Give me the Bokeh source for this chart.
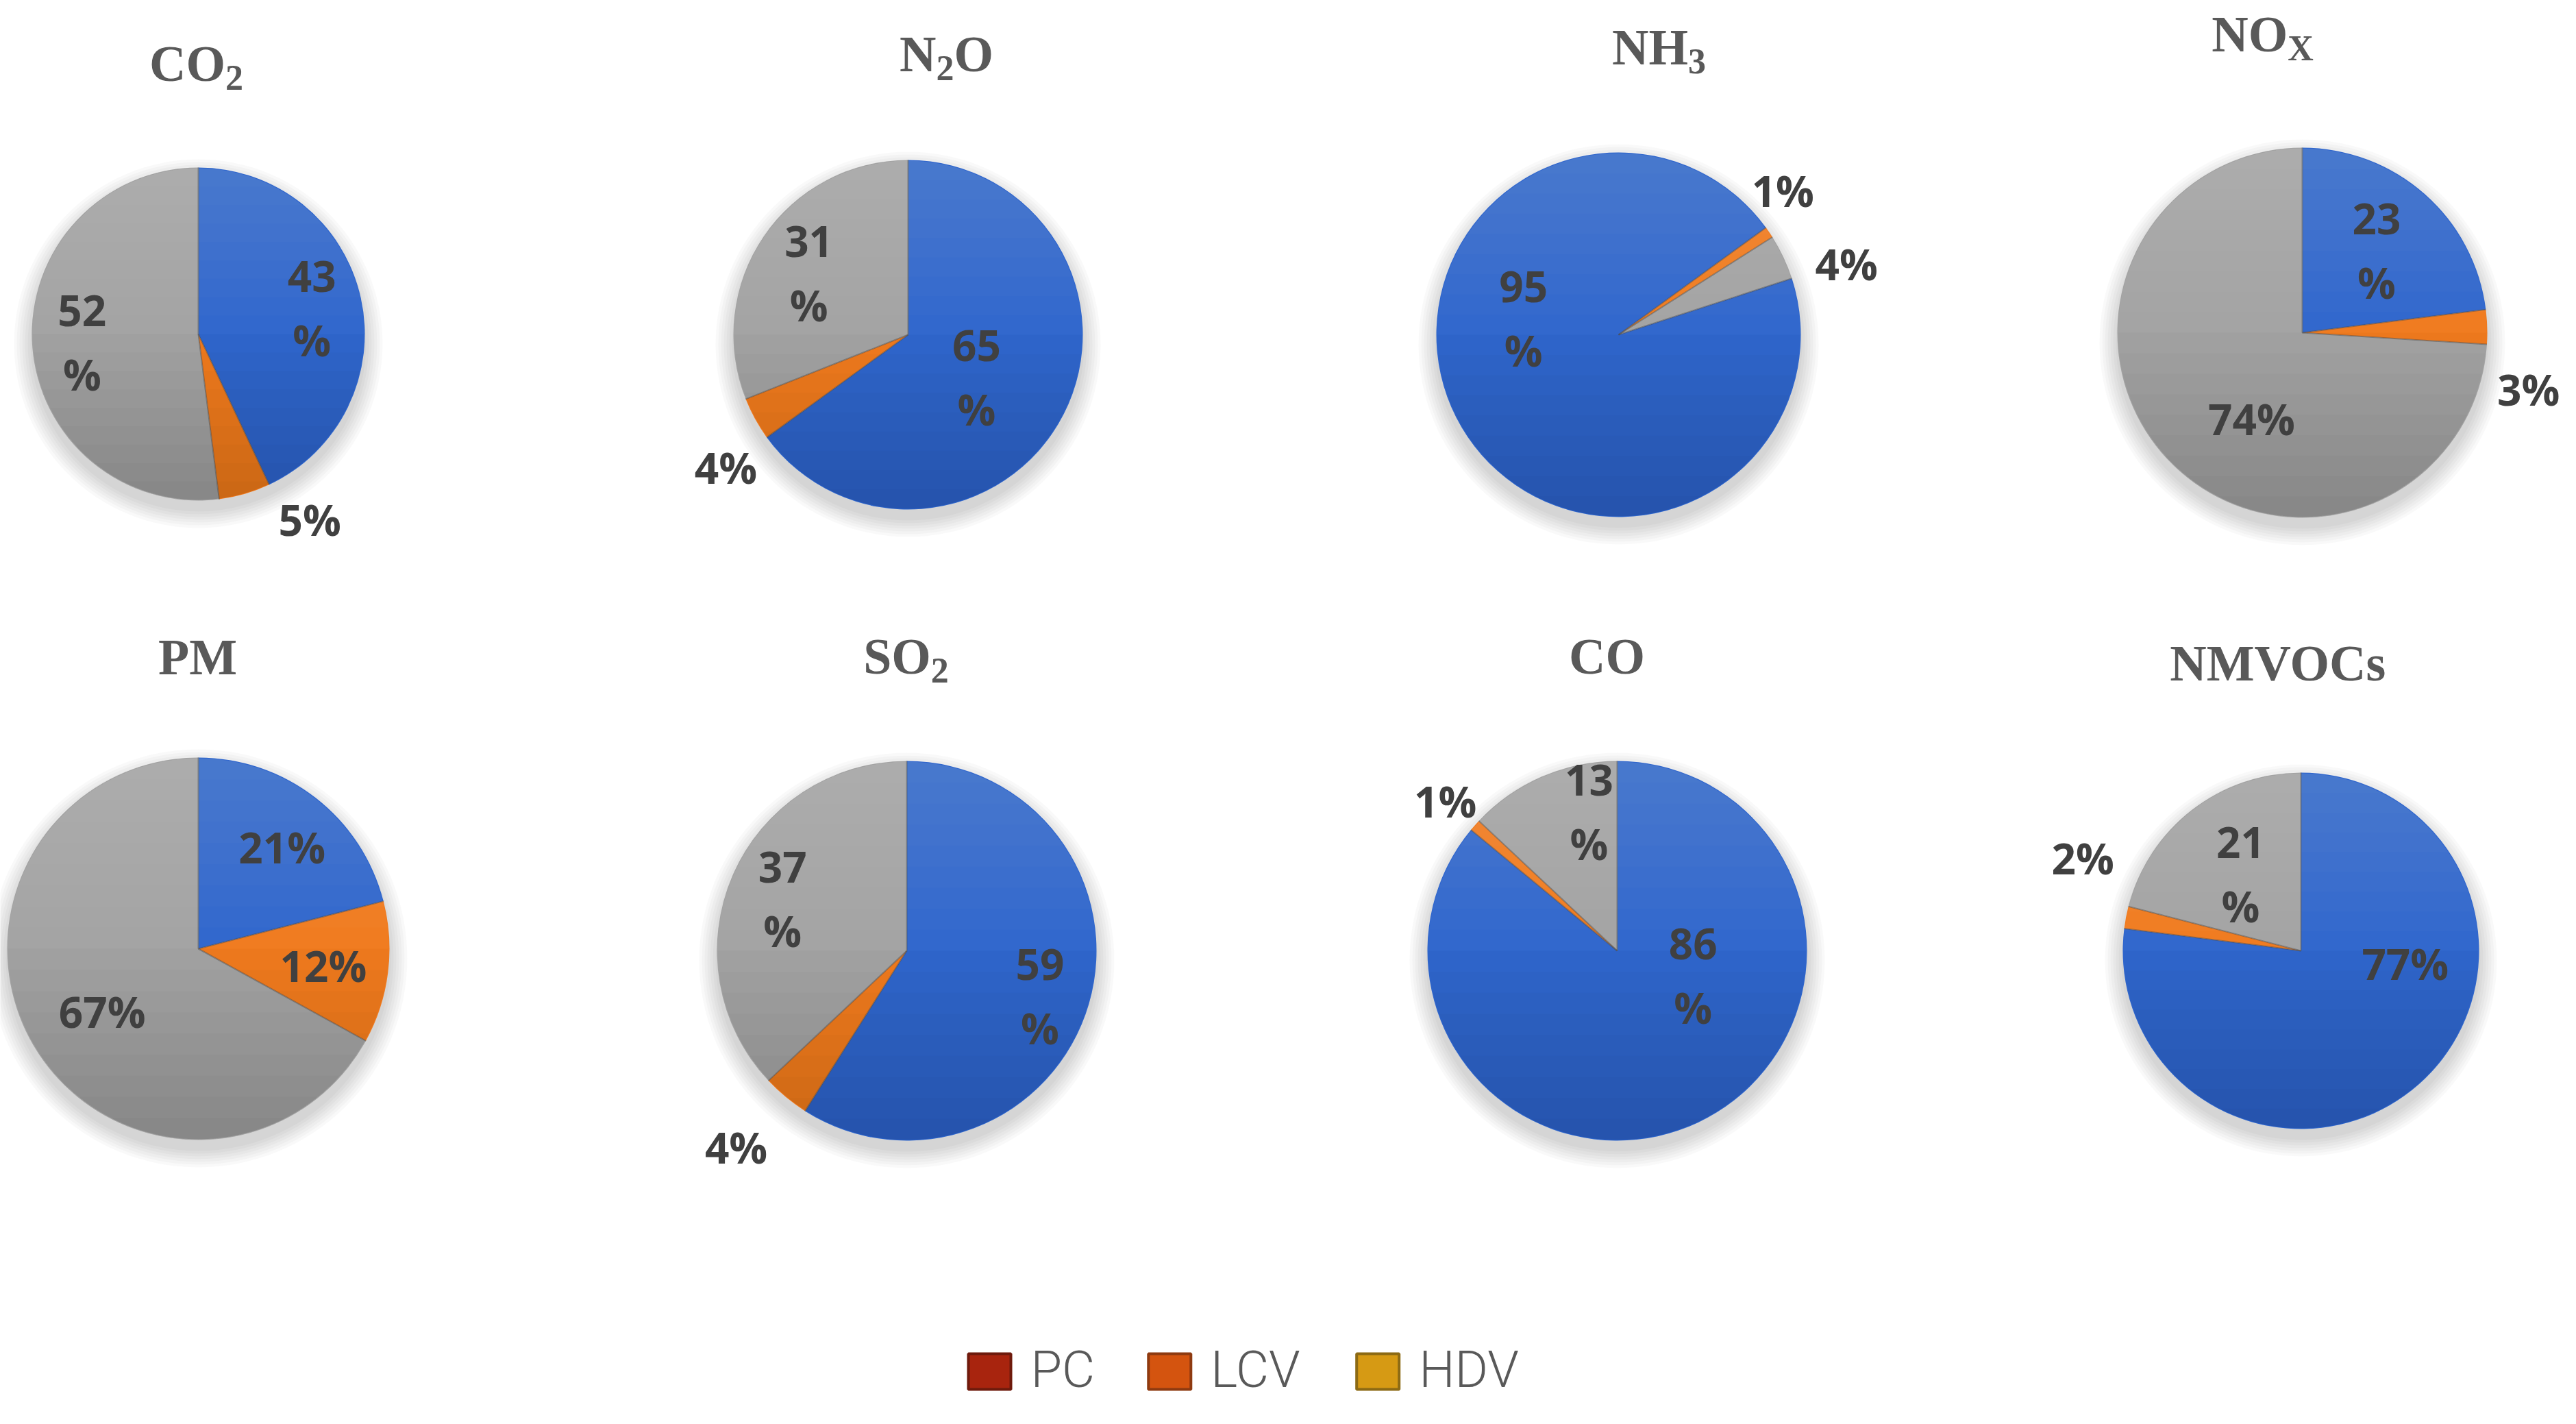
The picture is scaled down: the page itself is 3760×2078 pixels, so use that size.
import math
from bokeh.plotting import figure
from bokeh.models import ColumnDataSource, Range1d
from bokeh.core.properties import value
from bokeh.embed import file_html
from bokeh.resources import INLINE

# ---------------- data ----------------
pollutants = ["CO2", "N2O", "NH3", "NOx", "PM", "SO2", "CO", "NMVOCs"]
title_parts = [
    [("CO", 0), ("2", 1)],
    [("N", 0), ("2", 1), ("O", 0)],
    [("NH", 0), ("3", 1)],
    [("NO", 0), ("X", 1)],
    [("PM", 0)],
    [("SO", 0), ("2", 1)],
    [("CO", 0)],
    [("NMVOCs", 0)],
]
categories = ["PC", "LCV", "HDV"]
pc_share = [43, 65, 95, 23, 21, 59, 86, 77]
lcv_share = [5, 4, 1, 3, 12, 4, 1, 2]
hdv_share = [52, 31, 4, 74, 67, 37, 13, 21]

slice_colors = ["#2F66CD", "#F07A1E", "#A3A3A3"]
legend_colors = ["#A8240E", "#D4540F", "#D69A14"]
legend_edges = ["#6E1A0C", "#8E3A10", "#8C6A14"]

# ---------------- layout (page pixels) ----------------
PAGE_W, PAGE_H = 3760, 2078
FIG_W, FIG_H = 3744, 2062


def Y(py):
    return PAGE_H - py


pie_centers = [(297, 495), (1333, 496), (2370, 496), (3368, 493),
               (297, 1392), (1331, 1395), (2368, 1395), (3366, 1395)]
pie_radii = [243, 255, 266, 270, 279, 277, 277, 260]
first_angle = [0, 0, 72, 0, 0, 0, 0, 0]
title_centers = [(294, 76), (1389, 62), (2429, 52), (3310, 33),
                 (296, 942), (1330, 941), (2353, 941), (3333, 951)]
# (angle clockwise from 12 o'clock, distance / radius, two-line)
label_place = [
    [(77, 0.70, True), (149, 1.30, False), (266, 0.70, True)],
    [(121.6, 0.46, True), (234, 1.29, False), (302, 0.67, True)],
    [(280, 0.53, True), (48.7, 1.20, False), (72.7, 1.31, False)],
    [(42, 0.60, True), (104, 1.26, False), (210.5, 0.54, False)],
    [(39.4, 0.69, False), (97.8, 0.66, False), (237, 0.60, False)],
    [(108.5, 0.74, True), (221, 1.37, False), (292.8, 0.71, True)],
    [(107.8, 0.42, True), (311, 1.20, False), (348.6, 0.75, True)],
    [(97, 0.59, False), (293, 1.33, False), (322, 0.55, True)],
]

p = figure(width=FIG_W, height=FIG_H, output_backend="svg", toolbar_location=None,
           x_range=Range1d(8, PAGE_W - 8), y_range=Range1d(8, PAGE_H - 8),
           x_axis_type=None, y_axis_type=None, min_border=0,
           outline_line_color=None, background_fill_color="white")
p.xgrid.visible = False
p.ygrid.visible = False

# ---------------- shadows ----------------
sh = dict(x=[], y=[], r=[])
for (cx, cy), r in zip(pie_centers, pie_radii):
    for k in range(7):
        sh["x"].append(cx)
        sh["y"].append(Y(cy) - 14)
        sh["r"].append(r + 2 + 4 * k)
p.circle(x="x", y="y", radius="r", source=ColumnDataSource(sh),
         fill_color="black", fill_alpha=0.022, line_color=None)

# ---------------- wedges ----------------
wd = dict(x=[], y=[], radius=[], start=[], end=[], color=[], cat=[], pol=[])
edges = dict(x0=[], y0=[], x1=[], y1=[])
for i, pol in enumerate(pollutants):
    cx, cy = pie_centers[i]
    r = pie_radii[i]
    vals = [pc_share[i], lcv_share[i], hdv_share[i]]
    tot = float(sum(vals))
    a = first_angle[i]
    for j, v in enumerate(vals):
        a2 = a + 360.0 * v / tot
        wd["x"].append(cx)
        wd["y"].append(Y(cy))
        wd["radius"].append(r)
        wd["start"].append(math.radians(90 - a))
        wd["end"].append(math.radians(90 - a2))
        wd["color"].append(slice_colors[j])
        wd["cat"].append(categories[j])
        wd["pol"].append(pol)
        edges["x0"].append(cx)
        edges["y0"].append(Y(cy))
        edges["x1"].append(cx + r * math.sin(math.radians(a)))
        edges["y1"].append(Y(cy) + r * math.cos(math.radians(a)))
        a = a2
p.wedge(x="x", y="y", radius="radius", start_angle="start", end_angle="end",
        direction="clock", fill_color="color", line_color=None,
        source=ColumnDataSource(wd))


# ---------------- vertical shading (light top, dark bottom) ----------------
def cap(cx, cy, r, h, above, n=72):
    phi0 = math.asin(max(-1.0, min(1.0, h / r)))
    if above:
        a0, a1 = phi0, math.pi - phi0
    else:
        a0, a1 = math.pi - phi0, 2 * math.pi + phi0
    xs = [cx + r * math.cos(a0 + (a1 - a0) * t / n) for t in range(n + 1)]
    ys = [cy + r * math.sin(a0 + (a1 - a0) * t / n) for t in range(n + 1)]
    return xs, ys


N = 9
lx, ly, dx_, dy_ = [], [], [], []
for (cx, cy), r in zip(pie_centers, pie_radii):
    for k in range(1, N + 1):
        xs, ys = cap(cx, Y(cy), r - 1, (r - 1) * (1 - 1.0 * k / N), True)
        lx.append(xs)
        ly.append(ys)
        xs, ys = cap(cx, Y(cy), r - 1, -(r - 1) * (1 - 1.0 * k / N), False)
        dx_.append(xs)
        dy_.append(ys)
p.patches(xs=lx, ys=ly, fill_color="white", fill_alpha=0.014, line_color=None)
p.patches(xs=dx_, ys=dy_, fill_color="black", fill_alpha=0.016, line_color=None)

# slice boundary lines
p.segment(x0="x0", y0="y0", x1="x1", y1="y1", source=ColumnDataSource(edges),
          line_color="#4a4a4a", line_alpha=0.45, line_width=2)

# ---------------- data labels ----------------
lab = dict(x=[], y=[], text=[])
for i in range(len(pollutants)):
    cx, cy = pie_centers[i]
    r = pie_radii[i]
    vals = [pc_share[i], lcv_share[i], hdv_share[i]]
    for j, v in enumerate(vals):
        ang, f, wrap = label_place[i][j]
        lab["x"].append(cx + f * r * math.sin(math.radians(ang)))
        lab["y"].append(Y(cy) + f * r * math.cos(math.radians(ang)))
        lab["text"].append(f"{v}\n%" if wrap else f"{v}%")
p.text(x="x", y="y", text="text", source=ColumnDataSource(lab),
       text_font=value("Open Sans"), text_font_style="bold", text_font_size="62px",
       text_color="#404040", text_align="center", text_baseline="middle",
       text_line_height=1.12)

# ---------------- titles ----------------
TB = {"C": 722, "O": 778, "N": 722, "H": 778, "M": 944, "P": 611, "S": 556,
      "V": 722, "s": 389, "X": 722, "2": 500, "3": 500}
MAIN_FS, SUB_FS, SUB_DROP = 74, 52, 21
mt = dict(x=[], y=[], text=[])
st = dict(x=[], y=[], text=[])
for i, parts in enumerate(title_parts):
    tcx, tcy = title_centers[i]
    widths = [sum(TB[c] for c in s) / 1000.0 * (SUB_FS if sub else MAIN_FS) for s, sub in parts]
    x = tcx - sum(widths) / 2.0
    base = tcy + 0.662 * MAIN_FS / 2.0
    for (s, sub), w in zip(parts, widths):
        d = st if sub else mt
        d["x"].append(x)
        d["y"].append(Y(base + (SUB_DROP if sub else 0)))
        d["text"].append(s)
        x += w
p.text(x="x", y="y", text="text", source=ColumnDataSource(mt),
       text_font=value("Liberation Serif"), text_font_style="bold",
       text_font_size=f"{MAIN_FS}px", text_color="#595959",
       text_align="left", text_baseline="alphabetic")
p.text(x="x", y="y", text="text", source=ColumnDataSource(st),
       text_font=value("Liberation Serif"), text_font_style="bold",
       text_font_size=f"{SUB_FS}px", text_color="#595959",
       text_align="left", text_baseline="alphabetic")

# ---------------- legend ----------------
LS = {"P": 667, "C": 722, "L": 556, "V": 667, "H": 722, "D": 722}
LEG_FS, BOX_W, BOX_H, GAP1, GAP2 = 74, 62, 52, 29, 69
leg_y = 2009
lx0 = 1421
lb = dict(x=[], y=[], w=[], h=[], color=[], edge=[])
lt = dict(x=[], y=[], text=[])
for name, col, ed in zip(categories, legend_colors, legend_edges):
    lb["x"].append(lx0 + BOX_W / 2.0)
    lb["y"].append(Y(leg_y))
    lb["w"].append(BOX_W)
    lb["h"].append(BOX_H)
    lb["color"].append(col)
    lb["edge"].append(ed)
    tx = lx0 + BOX_W + GAP1
    lt["x"].append(tx)
    lt["y"].append(Y(leg_y - 3))
    lt["text"].append(name)
    lx0 = tx + sum(LS[c] for c in name) / 1000.0 * LEG_FS + GAP2
p.rect(x="x", y="y", width="w", height="h", source=ColumnDataSource(lb),
       fill_color="color", line_color="edge", line_width=4)
p.text(x="x", y="y", text="text", source=ColumnDataSource(lt),
       text_font=value("Roboto Light, Liberation Sans"), text_font_size=f"{LEG_FS}px",
       text_color="#595959", text_align="left", text_baseline="middle")

open("out.html", "w").write(file_html(p, INLINE))
